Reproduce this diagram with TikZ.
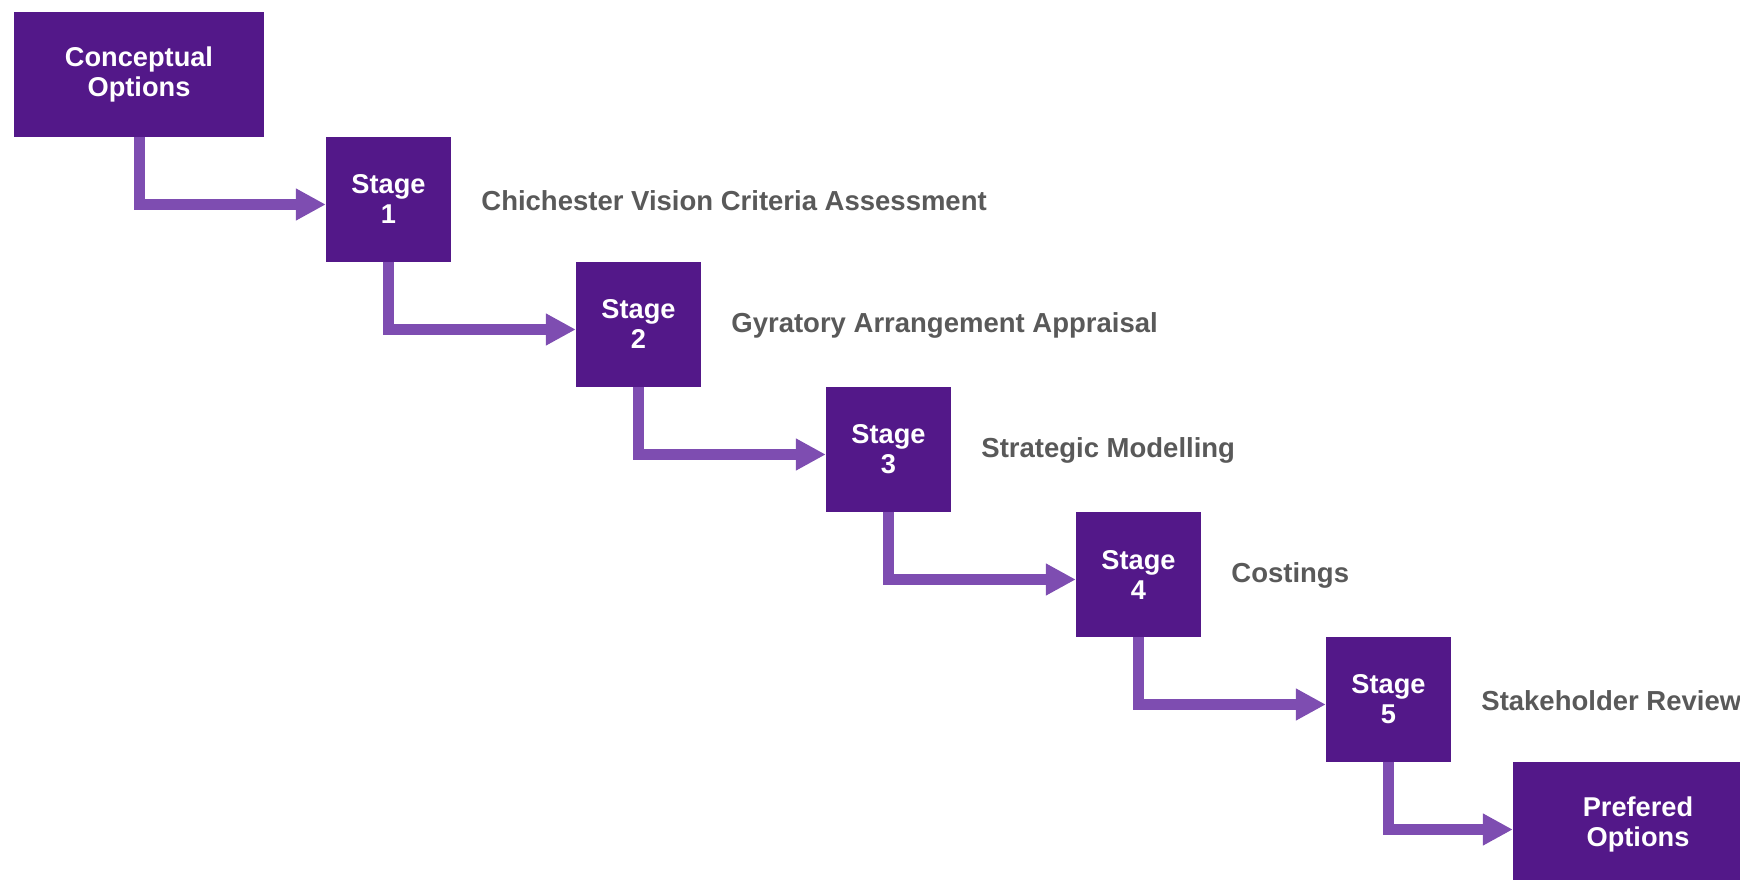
\documentclass[tikz,border=0pt]{standalone}
\usepackage{fontspec}
\setmainfont{Liberation Sans}
\usetikzlibrary{arrows.meta}
\definecolor{boxpurple}{HTML}{531889}
\definecolor{arrowpurple}{HTML}{7E4DB1}
\definecolor{labelgray}{HTML}{595959}
\tikzset{
  stagebox/.style={fill=boxpurple, text=white, align=center, inner sep=0pt,
    minimum width=125pt, minimum height=125pt,
    font=\fontsize{27.2}{30}\selectfont\bfseries},
  endbox/.style={stagebox, minimum width=250pt},
  flow/.style={draw=arrowpurple, line width=11pt, line join=miter,
    -{Triangle[width=30pt,length=30pt]}},
  steplabel/.style={anchor=west, text=labelgray, inner sep=0pt,
    font=\fontsize{27.5}{30}\selectfont\bfseries}
}
\begin{document}
\begin{tikzpicture}[x=1pt,y=-1pt]
      \useasboundingbox (0,0) rectangle (1740,880);
      \clip (0,0) rectangle (1740,880);
      \node[endbox] (co) at (139,74.5) {Conceptual\\Options};
      \node[stagebox] (s1) at (388.5,199.5) {Stage\\1};
      \node[stagebox] (s2) at (638.5,324.5) {Stage\\2};
      \node[stagebox] (s3) at (888.5,449.5) {Stage\\3};
      \node[stagebox] (s4) at (1138.5,574.5) {Stage\\4};
      \node[stagebox] (s5) at (1388.5,699.5) {Stage\\5};
      \node[endbox] (po) at (1638,824.5) {Prefered\\Options};
      \node[steplabel] (l1) at ([xshift=30pt,yshift=-1pt]s1.east) {Chichester Vision Criteria Assessment};
      \node[steplabel] (l2) at ([xshift=30pt,yshift=-1pt]s2.east) {Gyratory Arrangement Appraisal};
      \node[steplabel] (l3) at ([xshift=30pt,yshift=-1pt]s3.east) {Strategic Modelling};
      \node[steplabel] (l4) at ([xshift=30pt,yshift=-1pt]s4.east) {Costings};
      \node[steplabel] (l5) at ([xshift=30pt,yshift=-1pt]s5.east) {Stakeholder Review};
      \draw[flow] (co.south) |- ([yshift=-5pt]s1.west);
      \draw[flow] (s1.south) |- ([yshift=-5pt]s2.west);
      \draw[flow] (s2.south) |- ([yshift=-5pt]s3.west);
      \draw[flow] (s3.south) |- ([yshift=-5pt]s4.west);
      \draw[flow] (s4.south) |- ([yshift=-5pt]s5.west);
      \draw[flow] (s5.south) |- ([yshift=-5pt]po.west);
\end{tikzpicture}
\end{document}
